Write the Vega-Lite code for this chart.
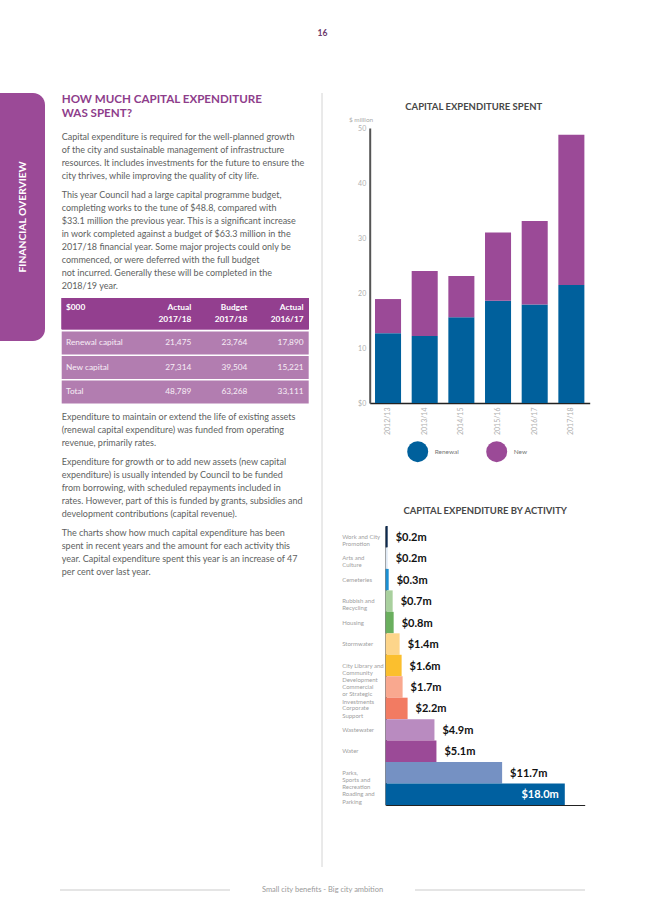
{
  "$schema": "https://vega.github.io/schema/vega-lite/v6.json",
  "padding": 0,
  "background": "white",
  "config": {
    "view": {"stroke": null},
    "font": "Lato"
  },
  "resolve": {"scale": {"color": "independent"}, "legend": {"color": "independent"}},
  "spacing": 0,
  "vconcat": [
    {
      "spacing": 26,
      "resolve": {"scale": {"color": "independent"}, "legend": {"color": "independent"}},
      "vconcat": [
        {
          "width": 645,
          "height": 66,
          "data": {"values": [{"t": "16"}]},
          "mark": {"type": "text", "fontSize": 8.5, "fontWeight": "bold", "color": "#6d3b6c"},
          "encoding": {
            "x": {"field": "t", "type": "nominal", "axis": null},
            "y": {"field": "t", "type": "nominal", "axis": null},
            "text": {"field": "t"}
          }
        },
        {
          "spacing": 16.7,
          "resolve": {"scale": {"color": "independent"}, "legend": {"color": "independent"}},
          "hconcat": [
            {
              "width": 45,
              "height": 248,
              "data": {"values": [{"k": "FINANCIAL OVERVIEW"}]},
              "encoding": {
                "x": {"field": "k", "type": "nominal", "axis": null, "scale": {"type": "band", "paddingInner": 0, "paddingOuter": 0}},
                "y": {"field": "k", "type": "nominal", "axis": null, "scale": {"type": "band", "paddingInner": 0, "paddingOuter": 0}}
              },
              "layer": [
                {"mark": {"type": "rect", "color": "#9b4a97", "cornerRadiusTopRight": 12, "cornerRadiusBottomRight": 12}},
                {"mark": {"type": "text", "angle": 270, "color": "white", "fontSize": 10.3, "fontWeight": "bold"}, "encoding": {"text": {"field": "k"}}}
              ]
            },
            {
              "spacing": 0,
              "resolve": {"scale": {"color": "independent"}, "legend": {"color": "independent"}},
              "hconcat": [
                {
                  "spacing": 6,
                  "vconcat": [
                    {
                      "width": 250,
                      "height": 30.2,
                      "data": {"values": [
                        {"i": 1, "t": "HOW MUCH CAPITAL EXPENDITURE"},
                        {"i": 2, "t": "WAS SPENT?"}
                      ]},
                      "mark": {"type": "text", "align": "left", "baseline": "middle", "fontSize": 11.6, "fontWeight": "bold", "color": "#8e3d8b"},
                      "encoding": {
                        "y": {"field": "i", "type": "ordinal", "axis": null, "scale": {"type": "band", "paddingInner": 0, "paddingOuter": 0.0786, "align": 0}},
                        "x": {"datum": 0, "type": "quantitative", "axis": null, "scale": {"domain": [0, 1]}},
                        "text": {"field": "t"}
                      }
                    },
                    {
                      "width": 250,
                      "height": 52,
                      "data": {"values": [
                        {"i": 1, "t": "Capital expenditure is required for the well-planned growth"},
                        {"i": 2, "t": "of the city and sustainable management of infrastructure"},
                        {"i": 3, "t": "resources. It includes investments for the future to ensure the"},
                        {"i": 4, "t": "city thrives, while improving the quality of city life."}
                      ]},
                      "mark": {"type": "text", "align": "left", "baseline": "middle", "fontSize": 9, "color": "#5e5f61"},
                      "encoding": {
                        "y": {"field": "i", "type": "ordinal", "axis": null, "scale": {"type": "band", "paddingInner": 0, "paddingOuter": 0}},
                        "x": {"datum": 0, "type": "quantitative", "axis": null, "scale": {"domain": [0, 1]}},
                        "text": {"field": "t"}
                      }
                    },
                    {
                      "width": 250,
                      "height": 104,
                      "data": {"values": [
                        {"i": 1, "t": "This year Council had a large capital programme budget,"},
                        {"i": 2, "t": "completing works to the tune of $48.8, compared with"},
                        {"i": 3, "t": "$33.1 million the previous year. This is a significant increase"},
                        {"i": 4, "t": "in work completed against a budget of $63.3 million in the"},
                        {"i": 5, "t": "2017/18 financial year. Some major projects could only be"},
                        {"i": 6, "t": "commenced, or were deferred with the full budget"},
                        {"i": 7, "t": "not incurred. Generally these will be completed in the"},
                        {"i": 8, "t": "2018/19 year."}
                      ]},
                      "mark": {"type": "text", "align": "left", "baseline": "middle", "fontSize": 9, "color": "#5e5f61"},
                      "encoding": {
                        "y": {"field": "i", "type": "ordinal", "axis": null, "scale": {"type": "band", "paddingInner": 0, "paddingOuter": 0}},
                        "x": {"datum": 0, "type": "quantitative", "axis": null, "scale": {"domain": [0, 1]}},
                        "text": {"field": "t"}
                      }
                    },
                    {
                      "spacing": 1.5,
                      "vconcat": [
                        {
                          "width": 247,
                          "height": 31.3,
                          "data": {"values": [
                            {"h": "head", "c": "label", "t": "$000"},
                            {"h": "head", "c": "a17", "t": "Actual\n2017/18"},
                            {"h": "head", "c": "b17", "t": "Budget\n2017/18"},
                            {"h": "head", "c": "a16", "t": "Actual\n2016/17"}
                          ]},
                          "layer": [
                            {"mark": {"type": "rect", "color": "#933f8f"}, "encoding": {}},
                            {
                              "transform": [{"filter": "datum.c === 'label'"}],
                              "mark": {"type": "text", "align": "left", "baseline": "middle", "dx": -13, "dy": 9.8, "lineBreak": "\n", "lineHeight": 12.6, "fontSize": 8.3, "fontWeight": "bold", "color": "white"},
                              "encoding": {
                                "x": {"field": "c", "type": "nominal", "axis": null, "bandPosition": 0, "scale": {"type": "band", "domain": ["label", "a17", "b17", "a16"], "paddingInner": 0, "paddingOuter": 0.2, "align": 0.77}},
                                "y": {"field": "h", "type": "nominal", "axis": null, "bandPosition": 0, "scale": {"type": "band", "paddingInner": 0, "paddingOuter": 0}},
                                "text": {"field": "t"}
                              }
                            },
                            {
                              "transform": [{"filter": "datum.c !== 'label'"}],
                              "mark": {"type": "text", "align": "right", "baseline": "middle", "dy": 9.8, "lineBreak": "\n", "lineHeight": 12.6, "fontSize": 8.3, "fontWeight": "bold", "color": "white"},
                              "encoding": {
                                "x": {"field": "c", "type": "nominal", "axis": null, "bandPosition": 1, "scale": {"type": "band", "domain": ["label", "a17", "b17", "a16"], "paddingInner": 0, "paddingOuter": 0.2, "align": 0.77}},
                                "y": {"field": "h", "type": "nominal", "axis": null, "bandPosition": 0, "scale": {"type": "band", "paddingInner": 0, "paddingOuter": 0}},
                                "text": {"field": "t"}
                              }
                            }
                          ]
                        },
                        {
                          "width": 247,
                          "height": 72,
                          "data": {"values": [
                            {"r": "Renewal capital", "c": "label", "t": "Renewal capital"},
                            {"r": "Renewal capital", "c": "a17", "t": "21,475"},
                            {"r": "Renewal capital", "c": "b17", "t": "23,764"},
                            {"r": "Renewal capital", "c": "a16", "t": "17,890"},
                            {"r": "New capital", "c": "label", "t": "New capital"},
                            {"r": "New capital", "c": "a17", "t": "27,314"},
                            {"r": "New capital", "c": "b17", "t": "39,504"},
                            {"r": "New capital", "c": "a16", "t": "15,221"},
                            {"r": "Total", "c": "label", "t": "Total"},
                            {"r": "Total", "c": "a17", "t": "48,789"},
                            {"r": "Total", "c": "b17", "t": "63,268"},
                            {"r": "Total", "c": "a16", "t": "33,111"}
                          ]},
                          "encoding": {
                            "y": {"field": "r", "type": "nominal", "axis": null, "scale": {"type": "band", "domain": ["Renewal capital", "New capital", "Total"], "paddingInner": 0.0612, "paddingOuter": 0}}
                          },
                          "layer": [
                            {"transform": [{"filter": "datum.c === 'label'"}], "mark": {"type": "rect", "color": "#b27db0"}},
                            {
                              "transform": [{"filter": "datum.c === 'label'"}],
                              "mark": {"type": "text", "align": "left", "baseline": "middle", "dx": -13, "fontSize": 8.3, "color": "#f7eef6"},
                              "encoding": {
                                "x": {"field": "c", "type": "nominal", "axis": null, "bandPosition": 0, "scale": {"type": "band", "domain": ["label", "a17", "b17", "a16"], "paddingInner": 0, "paddingOuter": 0.2, "align": 0.77}},
                                "text": {"field": "t"}
                              }
                            },
                            {
                              "transform": [{"filter": "datum.c !== 'label'"}],
                              "mark": {"type": "text", "align": "right", "baseline": "middle", "fontSize": 8.3, "color": "#f7eef6"},
                              "encoding": {
                                "x": {"field": "c", "type": "nominal", "axis": null, "bandPosition": 1, "scale": {"type": "band", "domain": ["label", "a17", "b17", "a16"], "paddingInner": 0, "paddingOuter": 0.2, "align": 0.77}},
                                "text": {"field": "t"}
                              }
                            }
                          ]
                        }
                      ]
                    },
                    {
                      "width": 250,
                      "height": 39,
                      "data": {"values": [
                        {"i": 1, "t": "Expenditure to maintain or extend the life of existing assets"},
                        {"i": 2, "t": "(renewal capital expenditure) was funded from operating"},
                        {"i": 3, "t": "revenue, primarily rates."}
                      ]},
                      "mark": {"type": "text", "align": "left", "baseline": "middle", "fontSize": 9, "color": "#5e5f61"},
                      "encoding": {
                        "y": {"field": "i", "type": "ordinal", "axis": null, "scale": {"type": "band", "paddingInner": 0, "paddingOuter": 0}},
                        "x": {"datum": 0, "type": "quantitative", "axis": null, "scale": {"domain": [0, 1]}},
                        "text": {"field": "t"}
                      }
                    },
                    {
                      "width": 250,
                      "height": 65,
                      "data": {"values": [
                        {"i": 1, "t": "Expenditure for growth or to add new assets (new capital"},
                        {"i": 2, "t": "expenditure) is usually intended by Council to be funded"},
                        {"i": 3, "t": "from borrowing, with scheduled repayments included in"},
                        {"i": 4, "t": "rates. However, part of this is funded by grants, subsidies and"},
                        {"i": 5, "t": "development contributions (capital revenue)."}
                      ]},
                      "mark": {"type": "text", "align": "left", "baseline": "middle", "fontSize": 9, "color": "#5e5f61"},
                      "encoding": {
                        "y": {"field": "i", "type": "ordinal", "axis": null, "scale": {"type": "band", "paddingInner": 0, "paddingOuter": 0}},
                        "x": {"datum": 0, "type": "quantitative", "axis": null, "scale": {"domain": [0, 1]}},
                        "text": {"field": "t"}
                      }
                    },
                    {
                      "width": 250,
                      "height": 52,
                      "data": {"values": [
                        {"i": 1, "t": "The charts show how much capital expenditure has been"},
                        {"i": 2, "t": "spent in recent years and the amount for each activity this"},
                        {"i": 3, "t": "year. Capital expenditure spent this year is an increase of 47"},
                        {"i": 4, "t": "per cent over last year."}
                      ]},
                      "mark": {"type": "text", "align": "left", "baseline": "middle", "fontSize": 9, "color": "#5e5f61"},
                      "encoding": {
                        "y": {"field": "i", "type": "ordinal", "axis": null, "scale": {"type": "band", "paddingInner": 0, "paddingOuter": 0}},
                        "x": {"datum": 0, "type": "quantitative", "axis": null, "scale": {"domain": [0, 1]}},
                        "text": {"field": "t"}
                      }
                    }
                  ]
                },
                {
                  "width": 28.3,
                  "height": 774,
                  "data": {"values": [{"k": "d"}]},
                  "mark": {"type": "rule", "color": "#d4d4d4", "strokeWidth": 1},
                  "encoding": {
                    "x": {"field": "k", "type": "nominal", "axis": null, "bandPosition": 0.364, "scale": {"type": "band", "paddingInner": 0, "paddingOuter": 0}}
                  }
                },
                {
                  "spacing": 42,
                  "resolve": {"scale": {"color": "independent"}, "legend": {"color": "independent"}},
                  "vconcat": [
                    {
                      "spacing": 0,
                      "resolve": {"scale": {"color": "independent"}, "legend": {"color": "independent"}},
                      "vconcat": [
                        {"width": 1, "height": 8, "data": {"values": []}, "mark": "point"},
                        {
                          "spacing": 6,
                          "resolve": {"scale": {"color": "independent"}, "legend": {"color": "independent"}},
                          "hconcat": [
                            {"width": 1, "height": 1, "data": {"values": []}, "mark": "point"},
                            {
                              "width": 220,
                              "height": 275,
                              "title": {"text": "CAPITAL EXPENDITURE SPENT", "fontSize": 9.5, "fontWeight": "bold", "color": "#474747", "anchor": "middle", "dx": -6, "offset": 5},
                              "data": {"values": [
                                {"year": "2012/13", "type": "Renewal", "value": 12.7},
                                {"year": "2012/13", "type": "New", "value": 6.2},
                                {"year": "2013/14", "type": "Renewal", "value": 12.2},
                                {"year": "2013/14", "type": "New", "value": 11.8},
                                {"year": "2014/15", "type": "Renewal", "value": 15.6},
                                {"year": "2014/15", "type": "New", "value": 7.5},
                                {"year": "2015/16", "type": "Renewal", "value": 18.6},
                                {"year": "2015/16", "type": "New", "value": 12.4},
                                {"year": "2016/17", "type": "Renewal", "value": 17.89},
                                {"year": "2016/17", "type": "New", "value": 15.221},
                                {"year": "2017/18", "type": "Renewal", "value": 21.475},
                                {"year": "2017/18", "type": "New", "value": 27.314}
                              ]},
                              "mark": {"type": "bar"},
                              "encoding": {
                                "x": {"field": "year", "type": "nominal", "scale": {"paddingInner": 0.29, "paddingOuter": 0.145},
                                  "axis": {"title": null, "labelAngle": 270, "labelFontSize": 7, "labelColor": "#b0b0b0", "ticks": false, "domainColor": "#222222", "domainWidth": 1.5, "labelPadding": 4}},
                                "y": {"field": "value", "type": "quantitative", "stack": "zero", "scale": {"domain": [0, 50]},
                                  "axis": {"values": [0, 10, 20, 30, 40, 50], "grid": false, "ticks": false, "domainColor": "#555555", "domainWidth": 2, "labelColor": "#b0b0b0", "labelFontSize": 7, "labelPadding": 4,
                                    "labelExpr": "datum.value === 0 ? '$0' : datum.label",
                                    "title": "$ million", "titleAngle": 0, "titleX": 3, "titleY": -6, "titleAlign": "right", "titleBaseline": "bottom", "titleFontSize": 6.5, "titleColor": "#aaaaaa", "titleFontWeight": "normal"}},
                                "color": {"field": "type", "type": "nominal", "scale": {"domain": ["Renewal", "New"], "range": ["#00609c", "#9b4a97"]},
                                  "legend": {"orient": "none", "legendX": 37.5, "legendY": 313.2, "direction": "horizontal", "title": null, "symbolType": "circle", "symbolSize": 441, "symbolStrokeWidth": 0, "symbolOpacity": 1, "labelFontSize": 6.5, "labelColor": "#777777", "labelOffset": 6.5, "columnPadding": 27, "padding": 0}},
                                "order": {"field": "type", "sort": "descending"}
                              }
                            }
                          ]
                        }
                      ]
                    },
                    {
                      "spacing": 0,
                      "resolve": {"scale": {"color": "independent"}, "legend": {"color": "independent"}},
                      "hconcat": [
                        {"width": 1, "height": 1, "data": {"values": []}, "mark": "point"},
                        {
                          "width": 199,
                          "height": 279,
                          "title": {"text": "CAPITAL EXPENDITURE BY ACTIVITY", "fontSize": 9.5, "fontWeight": "bold", "color": "#474747", "anchor": "middle", "offset": 11},
                          "data": {"values": [
                            {"activity": "Work and City|Promotion", "value": 0.2, "label": "$0.2m"},
                            {"activity": "Arts and|Culture", "value": 0.2, "label": "$0.2m"},
                            {"activity": "Cemeteries", "value": 0.3, "label": "$0.3m"},
                            {"activity": "Rubbish and|Recycling", "value": 0.7, "label": "$0.7m"},
                            {"activity": "Housing", "value": 0.8, "label": "$0.8m"},
                            {"activity": "Stormwater", "value": 1.4, "label": "$1.4m"},
                            {"activity": "City Library and|Community|Development", "value": 1.6, "label": "$1.6m"},
                            {"activity": "Commercial|or Strategic|Investments", "value": 1.7, "label": "$1.7m"},
                            {"activity": "Corporate|Support", "value": 2.2, "label": "$2.2m"},
                            {"activity": "Wastewater", "value": 4.9, "label": "$4.9m"},
                            {"activity": "Water", "value": 5.1, "label": "$5.1m"},
                            {"activity": "Parks,|Sports and|Recreation", "value": 11.7, "label": "$11.7m"},
                            {"activity": "Roading and|Parking", "value": 18.0, "label": "$18.0m"}
                          ]},
                          "encoding": {
                            "y": {"field": "activity", "type": "nominal", "sort": null, "scale": {"paddingInner": 0, "paddingOuter": 0},
                              "axis": {"title": null, "labelExpr": "split(datum.label, '|')", "labelAlign": "left", "labelBaseline": "middle", "labelPadding": 44, "ticks": false, "tickSize": 0, "labelFontSize": 6, "labelLineHeight": 7.3, "labelColor": "#a0a0a0", "domainColor": "#222222", "domainWidth": 1.5}},
                            "x": {"field": "value", "type": "quantitative", "scale": {"domain": [0, 20]},
                              "axis": {"title": null, "labels": false, "ticks": false, "grid": false, "domainColor": "#222222", "domainWidth": 1}}
                          },
                          "layer": [
                            {
                              "mark": {"type": "bar"},
                              "encoding": {
                                "fill": {"field": "activity", "type": "nominal", "legend": null,
                                  "scale": {"domain": ["Work and City|Promotion", "Arts and|Culture", "Cemeteries", "Rubbish and|Recycling", "Housing", "Stormwater", "City Library and|Community|Development", "Commercial|or Strategic|Investments", "Corporate|Support", "Wastewater", "Water", "Parks,|Sports and|Recreation", "Roading and|Parking"],
                                    "range": ["#0d2a4f", "#dfe9f5", "#1b8fd2", "#a9d09e", "#6aaf5e", "#fdd58a", "#fbbf2e", "#f9a88f", "#f27b62", "#b98bc0", "#9b4a97", "#7591c3", "#0060a0"]}}
                              }
                            },
                            {
                              "transform": [{"filter": "datum.value < 15"}],
                              "mark": {"type": "text", "align": "left", "baseline": "middle", "dx": 8, "dy": 1, "fontSize": 11, "fontWeight": "bold", "color": "#111111"},
                              "encoding": {"text": {"field": "label"}}
                            },
                            {
                              "transform": [{"filter": "datum.value >= 15"}],
                              "mark": {"type": "text", "align": "right", "baseline": "middle", "dx": -6, "dy": 1, "fontSize": 11, "fontWeight": "bold", "color": "white"},
                              "encoding": {"text": {"field": "label"}}
                            }
                          ]
                        }
                      ]
                    }
                  ]
                }
              ]
            }
          ]
        }
      ]
    },
    {
      "width": 645,
      "height": 44,
      "data": {"values": [
        {"k": "L", "row": "f", "t": ""},
        {"k": "T", "row": "f", "t": "Small city benefits - Big city ambition"},
        {"k": "R", "row": "f", "t": ""}
      ]},
      "encoding": {
        "x": {"field": "k", "type": "nominal", "axis": null, "scale": {"type": "band", "domain": ["L", "T", "R"], "paddingInner": 0.042, "paddingOuter": 0.338}},
        "y": {"field": "row", "type": "nominal", "axis": null, "scale": {"type": "band", "paddingInner": 0, "paddingOuter": 0}}
      },
      "layer": [
        {"transform": [{"filter": "datum.k !== 'T'"}], "mark": {"type": "bar", "color": "#cccccc", "height": 1}},
        {"transform": [{"filter": "datum.k === 'T'"}], "mark": {"type": "text", "fontSize": 7.5, "color": "#9a9a9a", "baseline": "middle"}, "encoding": {"text": {"field": "t"}}}
      ]
    }
  ]
}
